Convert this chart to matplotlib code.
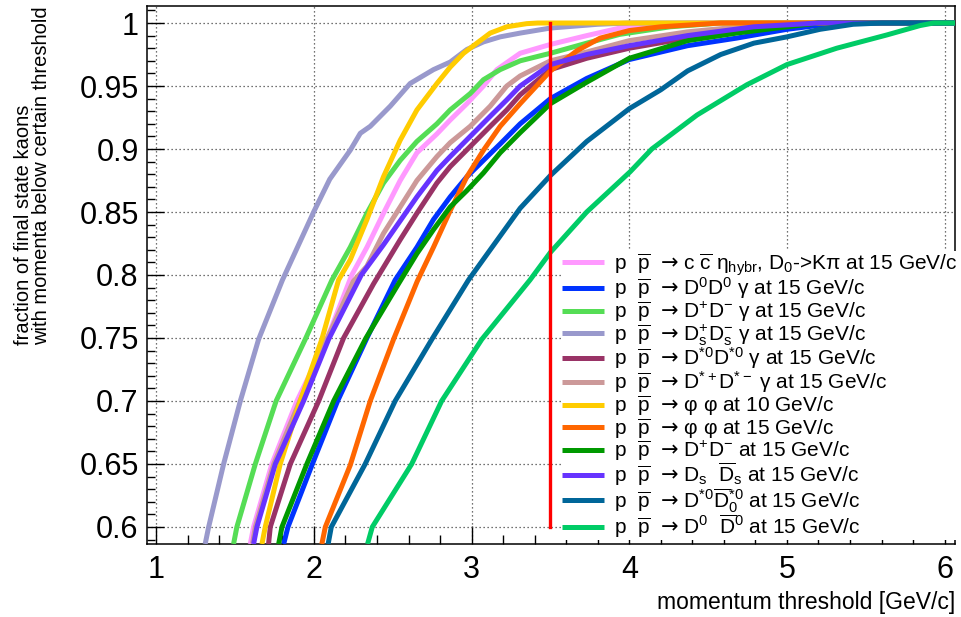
import matplotlib
matplotlib.use("Agg")
import matplotlib.pyplot as plt
from matplotlib.ticker import MultipleLocator

plt.rcParams['font.family'] = ['Liberation Sans', 'DejaVu Sans']
plt.rcParams['mathtext.fontset'] = 'custom'
plt.rcParams['mathtext.rm'] = 'Liberation Sans'
plt.rcParams['mathtext.it'] = 'Liberation Sans:italic'
plt.rcParams['mathtext.bf'] = 'Liberation Sans:bold'
plt.rcParams['mathtext.sf'] = 'DejaVu Sans'

# ---------------- data ----------------
PB = r'p  $\overline{\mathrm{p}}$  $\mathsf{→}$ '
labels = [
    PB + r'c $\overline{\mathrm{c}}$ η$_{\mathrm{hybr}}$, D$_{0}$->Kπ at 15 GeV/c',
    PB + r'D$^{0}$D$^{0}$ γ at 15 GeV/c',
    PB + r'D$^{+}$D$^{-}$ γ at 15 GeV/c',
    PB + r'D$_{\mathrm{s}}^{+}$D$_{\mathrm{s}}^{-}$ γ at 15 GeV/c',
    PB + r'D$^{*0}$D$^{*0}$ γ at 15 GeV/c',
    PB + r'D$^{*+}$D$^{*-}$ γ at 15 GeV/c',
    PB + r'φ φ at 10 GeV/c',
    PB + r'φ φ at 15 GeV/c',
    PB + r'D$^{+}$D$^{-}$ at 15 GeV/c',
    PB + r'D$_{\mathrm{s}}$  $\overline{\mathrm{D}}_{\mathrm{s}}$ at 15 GeV/c',
    PB + r'D$^{*0}$$\overline{\mathrm{D}}_{0}^{*0}$ at 15 GeV/c',
    PB + r'D$^{0}$  $\overline{\mathrm{D}}^{0}$ at 15 GeV/c',
]
colors = ['#ff99ff', '#0033ff', '#55dd55', '#9999cc', '#993366', '#cc9999',
          '#ffcc00', '#ff6600', '#009900', '#6633ff', '#006699', '#00cc66']

ccbar_x = [1.596, 1.617, 1.733, 1.892, 2.082, 2.24, 2.336, 2.441, 2.547, 2.653, 2.78, 2.864, 2.97, 3.075, 3.16, 3.308, 3.5, 3.73, 3.94, 4.15, 4.4, 6.1]
ccbar_y = [0.5865, 0.6, 0.65, 0.7, 0.749, 0.8, 0.822, 0.849, 0.875, 0.897, 0.912, 0.923, 0.936, 0.95, 0.963, 0.976, 0.983, 0.990, 0.996, 0.999, 1.0, 1.0]

d0d0g_x = [1.808, 1.835, 1.99, 2.15, 2.336, 2.515, 2.653, 2.758, 2.864, 2.97, 3.075, 3.181, 3.308, 3.5, 3.73, 4.0, 4.37, 4.68, 5.0, 5.32, 6.1]
d0d0g_y = [0.5865, 0.6, 0.65, 0.7, 0.75, 0.796, 0.822, 0.844, 0.862, 0.878, 0.891, 0.904, 0.920, 0.940, 0.956, 0.971, 0.982, 0.988, 0.995, 1.0, 1.0]

dpdmg_x = [1.49, 1.511, 1.628, 1.76, 1.945, 2.114, 2.23, 2.336, 2.441, 2.547, 2.653, 2.78, 2.864, 2.991, 3.075, 3.181, 3.308, 3.5, 3.73, 3.94, 4.26, 4.58, 6.1]
dpdmg_y = [0.5865, 0.6, 0.65, 0.7, 0.749, 0.796, 0.822, 0.849, 0.873, 0.891, 0.906, 0.920, 0.931, 0.944, 0.955, 0.963, 0.970, 0.976, 0.984, 0.991, 0.997, 1.0, 1.0]

dsdsg_x = [1.31, 1.332, 1.427, 1.533, 1.649, 1.80, 1.998, 2.10, 2.23, 2.294, 2.357, 2.484, 2.61, 2.758, 2.864, 2.97, 3.075, 3.181, 3.308, 3.5, 3.8, 4.0, 6.1]
dsdsg_y = [0.5865, 0.6, 0.65, 0.7, 0.749, 0.796, 0.85, 0.876, 0.899, 0.9125, 0.918, 0.934, 0.952, 0.963, 0.969, 0.979, 0.985, 0.989, 0.992, 0.996, 0.999, 1.0, 1.0]

dst0g_x = [1.712, 1.723, 1.85, 2.03, 2.188, 2.378, 2.547, 2.653, 2.78, 2.864, 2.991, 3.118, 3.223, 3.308, 3.5, 3.73, 4.0, 4.37, 4.79, 5.2, 6.1]
dst0g_y = [0.5865, 0.6, 0.65, 0.7, 0.75, 0.793, 0.828, 0.849, 0.873, 0.886, 0.902, 0.918, 0.931, 0.943, 0.963, 0.972, 0.980, 0.988, 0.996, 1.0, 1.0]

dstpmg_x = [1.61, 1.628, 1.745, 1.91, 2.085, 2.25, 2.336, 2.441, 2.547, 2.653, 2.78, 2.864, 2.991, 3.118, 3.223, 3.308, 3.5, 3.73, 4.0, 4.37, 4.79, 5.1, 6.1]
dstpmg_y = [0.5865, 0.6, 0.65, 0.7, 0.75, 0.795, 0.807, 0.833, 0.854, 0.875, 0.894, 0.905, 0.918, 0.934, 0.950, 0.958, 0.970, 0.977, 0.986, 0.993, 0.998, 1.0, 1.0]

phi10_x = [1.67, 1.691, 1.786, 1.913, 2.05, 2.156, 2.23, 2.336, 2.441, 2.547, 2.653, 2.78, 2.864, 2.949, 3.033, 3.118, 3.223, 3.35, 3.42, 6.1]
phi10_y = [0.5865, 0.6, 0.65, 0.7, 0.749, 0.796, 0.812, 0.844, 0.878, 0.907, 0.931, 0.952, 0.965, 0.976, 0.984, 0.992, 0.997, 0.9995, 1.0, 1.0]

phi15_x = [2.05, 2.072, 2.23, 2.357, 2.505, 2.655, 2.758, 2.864, 2.97, 3.075, 3.181, 3.308, 3.5, 3.668, 3.815, 4.0, 4.2, 4.58, 6.1]
phi15_y = [0.5865, 0.6, 0.649, 0.7, 0.749, 0.795, 0.822, 0.851, 0.878, 0.899, 0.918, 0.936, 0.962, 0.978, 0.988, 0.994, 0.997, 1.0, 1.0]

dpdm_x = [1.776, 1.797, 1.955, 2.125, 2.33, 2.536, 2.653, 2.758, 2.864, 2.97, 3.075, 3.181, 3.308, 3.5, 3.73, 4.0, 4.37, 4.68, 5.0, 5.2, 6.1]
dpdm_y = [0.5865, 0.6, 0.65, 0.7, 0.75, 0.793, 0.817, 0.836, 0.854, 0.867, 0.881, 0.897, 0.913, 0.936, 0.953, 0.972, 0.986, 0.992, 0.997, 1.0, 1.0]

dsds_x = [1.617, 1.638, 1.755, 1.934, 2.093, 2.30, 2.441, 2.547, 2.653, 2.78, 2.864, 2.991, 3.118, 3.223, 3.308, 3.5, 3.73, 4.0, 4.37, 4.79, 5.2, 6.1]
dsds_y = [0.5865, 0.6, 0.65, 0.7, 0.749, 0.80, 0.824, 0.843, 0.862, 0.883, 0.894, 0.910, 0.926, 0.939, 0.950, 0.967, 0.975, 0.982, 0.990, 0.997, 1.0, 1.0]

dst0d0_x = [2.09, 2.11, 2.325, 2.515, 2.748, 2.98, 3.118, 3.308, 3.5, 3.73, 4.0, 4.2, 4.37, 4.58, 4.79, 5.0, 5.21, 5.42, 5.6, 6.1]
dst0d0_y = [0.5865, 0.6, 0.65, 0.7, 0.749, 0.796, 0.82, 0.853, 0.879, 0.906, 0.932, 0.947, 0.962, 0.975, 0.984, 0.989, 0.995, 0.999, 1.0, 1.0]

d0d0_x = [2.34, 2.37, 2.62, 2.81, 3.065, 3.37, 3.5, 3.73, 4.006, 4.143, 4.43, 4.746, 5.0, 5.316, 5.633, 5.845, 5.93, 6.1]
d0d0_y = [0.5865, 0.6, 0.65, 0.70, 0.749, 0.796, 0.818, 0.85, 0.882, 0.90, 0.927, 0.951, 0.967, 0.98, 0.9905, 0.998, 1.0, 1.0]

series_x = [ccbar_x, d0d0g_x, dpdmg_x, dsdsg_x, dst0g_x, dstpmg_x,
            phi10_x, phi15_x, dpdm_x, dsds_x, dst0d0_x, d0d0_x]
series_y = [ccbar_y, d0d0g_y, dpdmg_y, dsdsg_y, dst0g_y, dstpmg_y,
            phi10_y, phi15_y, dpdm_y, dsds_y, dst0d0_y, d0d0_y]

threshold_x = [3.5, 3.5]
threshold_y = [0.6, 1.0]

x_ticks = [1, 2, 3, 4, 5, 6]
y_ticks = [0.6, 0.65, 0.7, 0.75, 0.8, 0.85, 0.9, 0.95, 1.0]
y_ticklabels = ['0.6', '0.65', '0.7', '0.75', '0.8', '0.85', '0.9', '0.95', '1']

# ---------------- figure ----------------
W, H = 961, 617
fig = plt.figure(figsize=(W / 100, H / 100), dpi=100)
ax = fig.add_axes([147 / W, 73 / H, (955 - 147) / W, (544 - 6) / H])

for xs, ys, c, lab in zip(series_x, series_y, colors, labels):
    ax.plot(xs, ys, color=c, lw=3.6, label=lab, solid_capstyle='butt', zorder=3)

ax.plot(threshold_x, threshold_y, color='#ff0000', lw=2.4, zorder=4)

ax.set_xlim(0.941, 6.066)
ax.set_ylim(0.5865, 1.0135)
ax.set_xticks(x_ticks)
ax.set_yticks(y_ticks)
ax.set_yticklabels(y_ticklabels)
ax.xaxis.set_minor_locator(MultipleLocator(0.2))
ax.yaxis.set_minor_locator(MultipleLocator(0.01))

ax.grid(True, which='major', color='#444444', linestyle=(0, (1, 2.2)), lw=0.9, zorder=1)
ax.set_axisbelow(True)

ax.tick_params(axis='both', which='both', direction='in', top=False, right=False,
               width=1.0, color='black')
ax.tick_params(axis='x', which='major', length=13, pad=8, labelsize=22)
ax.tick_params(axis='x', which='minor', length=6.5)
ax.tick_params(axis='y', which='major', length=12, pad=6, labelsize=22)
ax.tick_params(axis='y', which='minor', length=6)
for s in ax.spines.values():
    s.set_linewidth(1.1)

ax.set_xlabel('momentum threshold [GeV/c]', fontsize=16.5, loc='right', labelpad=4)
ax.set_ylabel('fraction of final state kaons\nwith momenta below certain threshold',
              fontsize=14.5, loc='top', multialignment='left', labelpad=20,
              linespacing=1.0)

leg = ax.legend(loc='upper left', bbox_to_anchor=(562 / W, 1 - 251 / H),
                bbox_transform=fig.transFigure, fontsize=15, frameon=True,
                facecolor='white', edgecolor='none', framealpha=1, fancybox=False,
                borderpad=0.0, borderaxespad=0, handlelength=2.0, handletextpad=0.5,
                labelspacing=-0.1)
leg.set_zorder(5)
for line in leg.get_lines():
    line.set_linewidth(3.6)

fig.savefig('out.png', dpi=100)
